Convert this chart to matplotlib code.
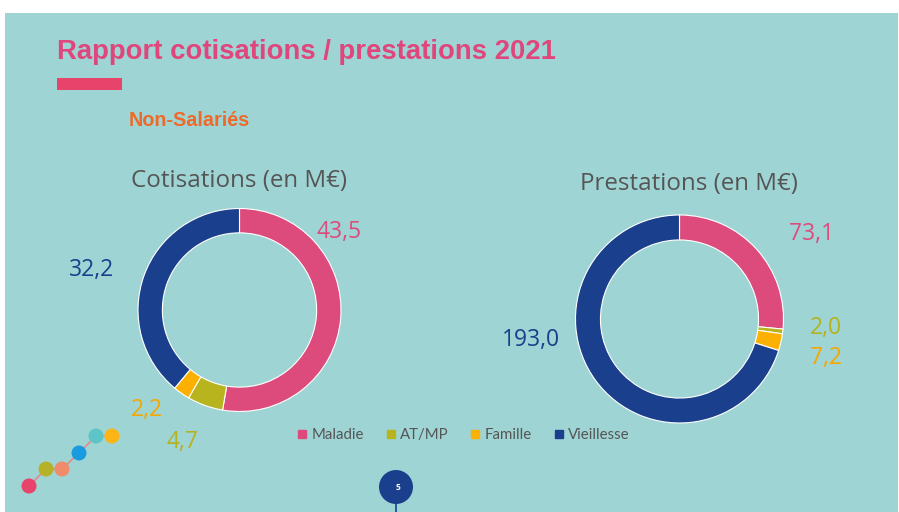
import matplotlib.pyplot as plt
from matplotlib.patches import Circle, Rectangle
from matplotlib.lines import Line2D

# Data (M€)
categories = ["Maladie", "AT/MP", "Famille", "Vieillesse"]
cotisations = [43.5, 4.7, 2.2, 32.2]
prestations = [73.1, 2.0, 7.2, 193.0]
colors = ["#DD4B7C", "#B8B41E", "#FCB002", "#1A3F8C"]
label_colors = ["#DD4B7C", "#B5B21E", "#F5A700", "#1A3F8C"]

BG = "#9FD4D4"
W, H = 899, 512

plt.rcParams["font.family"] = ["Open Sans", "DejaVu Sans"]
fig = plt.figure(figsize=(W / 100, H / 100), dpi=100)
fig.patch.set_facecolor("white")

# full-figure axes in pixel coordinates for the slide decoration
bg = fig.add_axes([0, 0, 1, 1])
bg.set_xlim(0, W)
bg.set_ylim(H, 0)
bg.axis("off")
bg.add_patch(Rectangle((5, 13), 893, H - 13, facecolor=BG, edgecolor="none"))

bg.text(57, 52, "Rapport cotisations / prestations 2021", color="#E0467C",
        fontsize=19.8, fontweight="bold", family="Liberation Sans", va="center")
bg.add_patch(Rectangle((57, 78), 65, 12, facecolor="#E8436A", edgecolor="none"))
bg.text(129, 121, "Non-Salariés", color="#EE6A2A", fontsize=14.2,
        fontweight="bold", family="Liberation Sans", va="center")

# decorative dots
dots = [(29, 486, "#E8436A"), (46, 469, "#B5B22A"), (62, 469, "#F08C6A"),
        (79, 453, "#1A9BE0"), (96, 436, "#5DC5C8"), (112, 436, "#FDB515")]
for (xa, ya, _), (xb, yb, _) in zip(dots[:-1], dots[1:]):
    bg.plot([xa, xb], [ya, yb], color="#E08A8A", linewidth=1.2, zorder=1)
for x, y, c in dots:
    bg.add_patch(Circle((x, y), 7.5, facecolor=c, edgecolor="none", zorder=2))

# page number bubble
bg.plot([396, 396], [490, 512], color="#1A3F8C", linewidth=1.2)
bg.add_patch(Circle((396, 487), 17, facecolor="#1A3F8C", edgecolor="none"))
bg.text(398, 487, "5", color="white", fontsize=6, fontweight="bold", ha="center", va="center")


def fmt(v):
    return f"{v:.1f}".replace(".", ",")


def donut(cx, cy, r, values, title, title_xy, label_xy):
    ax = fig.add_axes([(cx - r) / W, 1 - (cy + r) / H, 2 * r / W, 2 * r / H])
    ax.pie(values, colors=colors, startangle=90, counterclock=False,
           wedgeprops=dict(width=0.24, edgecolor="white", linewidth=0.8))
    ax.set_xlim(-1, 1)
    ax.set_ylim(-1, 1)
    ax.set_aspect("equal")
    ax.axis("off")
    bg.text(*title_xy, title, color="#555555", fontsize=17.4, ha="center", va="center")
    for v, c, (lx, ly) in zip(values, label_colors, label_xy):
        bg.text(lx, ly + 2, fmt(v), color=c, fontsize=16.5, ha="center", va="center")


donut(239.5, 310, 101.5, cotisations, "Cotisations (en M€)", (239, 181),
      [(339, 230), (182, 440), (147, 408), (92, 268)])
donut(679.5, 319, 104, prestations, "Prestations (en M€)", (689, 184),
      [(812, 232), (826, 326), (826, 356), (531, 338)])

# legend
handles = [Line2D([], [], marker="s", linestyle="none", markersize=6, color=c) for c in colors]
fig.legend(handles, categories, loc="center", bbox_to_anchor=(462 / W, 1 - 435 / H), ncol=4,
           frameon=False, prop={"family": "Lato", "size": 10.8}, labelcolor="#555555",
           handletextpad=0.1, columnspacing=1.3, handlelength=1.0)

plt.savefig("out.png", dpi=100, facecolor="white")
